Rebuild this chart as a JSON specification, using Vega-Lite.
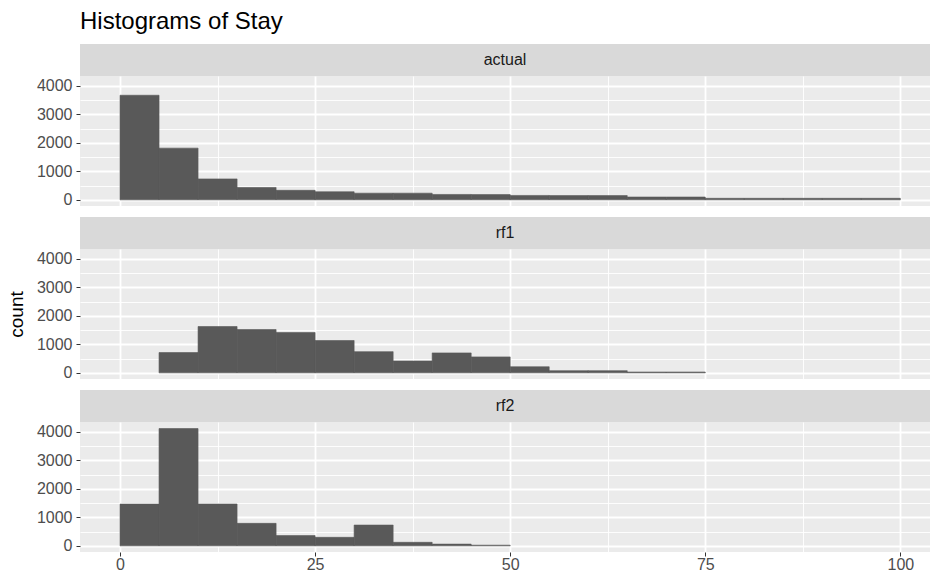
{
  "$schema": "https://vega.github.io/schema/vega-lite/v6.json",
  "padding": {"left": 7, "top": 10, "right": 0, "bottom": 0},
  "background": "white",
  "data": {"name": "bins"},
  "datasets": {
    "bins": [
      {"model": "actual", "bin_start": 0, "bin_end": 5, "count": 3670},
      {"model": "actual", "bin_start": 5, "bin_end": 10, "count": 1815},
      {"model": "actual", "bin_start": 10, "bin_end": 15, "count": 735},
      {"model": "actual", "bin_start": 15, "bin_end": 20, "count": 435},
      {"model": "actual", "bin_start": 20, "bin_end": 25, "count": 335},
      {"model": "actual", "bin_start": 25, "bin_end": 30, "count": 285},
      {"model": "actual", "bin_start": 30, "bin_end": 35, "count": 235},
      {"model": "actual", "bin_start": 35, "bin_end": 40, "count": 235},
      {"model": "actual", "bin_start": 40, "bin_end": 45, "count": 190},
      {"model": "actual", "bin_start": 45, "bin_end": 50, "count": 185},
      {"model": "actual", "bin_start": 50, "bin_end": 55, "count": 155},
      {"model": "actual", "bin_start": 55, "bin_end": 60, "count": 150},
      {"model": "actual", "bin_start": 60, "bin_end": 65, "count": 150},
      {"model": "actual", "bin_start": 65, "bin_end": 70, "count": 100},
      {"model": "actual", "bin_start": 70, "bin_end": 75, "count": 100},
      {"model": "actual", "bin_start": 75, "bin_end": 80, "count": 55},
      {"model": "actual", "bin_start": 80, "bin_end": 85, "count": 55},
      {"model": "actual", "bin_start": 85, "bin_end": 90, "count": 55},
      {"model": "actual", "bin_start": 90, "bin_end": 95, "count": 55},
      {"model": "actual", "bin_start": 95, "bin_end": 100, "count": 55},
      {"model": "rf1", "bin_start": 5, "bin_end": 10, "count": 713},
      {"model": "rf1", "bin_start": 10, "bin_end": 15, "count": 1626},
      {"model": "rf1", "bin_start": 15, "bin_end": 20, "count": 1520},
      {"model": "rf1", "bin_start": 20, "bin_end": 25, "count": 1415},
      {"model": "rf1", "bin_start": 25, "bin_end": 30, "count": 1135},
      {"model": "rf1", "bin_start": 30, "bin_end": 35, "count": 745},
      {"model": "rf1", "bin_start": 35, "bin_end": 40, "count": 415},
      {"model": "rf1", "bin_start": 40, "bin_end": 45, "count": 700},
      {"model": "rf1", "bin_start": 45, "bin_end": 50, "count": 561},
      {"model": "rf1", "bin_start": 50, "bin_end": 55, "count": 215},
      {"model": "rf1", "bin_start": 55, "bin_end": 60, "count": 78},
      {"model": "rf1", "bin_start": 60, "bin_end": 65, "count": 78},
      {"model": "rf1", "bin_start": 65, "bin_end": 70, "count": 30},
      {"model": "rf1", "bin_start": 70, "bin_end": 75, "count": 30},
      {"model": "rf2", "bin_start": 0, "bin_end": 5, "count": 1465},
      {"model": "rf2", "bin_start": 5, "bin_end": 10, "count": 4116},
      {"model": "rf2", "bin_start": 10, "bin_end": 15, "count": 1468},
      {"model": "rf2", "bin_start": 15, "bin_end": 20, "count": 790},
      {"model": "rf2", "bin_start": 20, "bin_end": 25, "count": 360},
      {"model": "rf2", "bin_start": 25, "bin_end": 30, "count": 300},
      {"model": "rf2", "bin_start": 30, "bin_end": 35, "count": 730},
      {"model": "rf2", "bin_start": 35, "bin_end": 40, "count": 125},
      {"model": "rf2", "bin_start": 40, "bin_end": 45, "count": 62},
      {"model": "rf2", "bin_start": 45, "bin_end": 50, "count": 25}
    ]
  },
  "spacing": 9,
  "vconcat": [
    {
      "spacing": 0,
      "vconcat": [
        {
          "width": 850, "height": 32,
          "view": {"fill": "#d9d9d9", "stroke": null},
          "title": {"text": "Histograms of Stay", "anchor": "start", "frame": "group", "fontSize": 24, "fontWeight": "normal", "color": "#000000", "offset": 10},
          "transform": [{"filter": "datum.model === 'actual'"}, {"aggregate": [{"op": "count", "as": "n"}], "groupby": ["model"]}],
          "mark": {"type": "text", "fontSize": 16, "color": "#1a1a1a"},
          "encoding": {"text": {"field": "model", "type": "nominal"}}
        },
        {
          "width": 850, "height": 130,
          "view": {"fill": "#ebebeb", "stroke": null},
          "transform": [{"filter": "datum.model === 'actual'"}],
          "mark": {"type": "rect", "color": "#595959", "stroke": "#595959", "strokeWidth": 0.6},
          "encoding": {
            "x": {"field": "bin_start", "type": "quantitative", "scale": {"domain": [-5.13, 103.8], "nice": false, "zero": false},
              "axis": {"values": [0, 12.5, 25, 37.5, 50, 62.5, 75, 87.5, 100], "labels": false, "ticks": false, "domain": false, "title": null, "grid": true, "gridColor": "#ffffff",
                "gridWidth": {"condition": {"test": "datum.value % 25 === 0", "value": 1.8}, "value": 0.9}}},
            "x2": {"field": "bin_end"},
            "y": {"field": "count", "type": "quantitative", "scale": {"domain": [-215, 4345], "nice": false},
              "axis": {"values": [0, 500, 1000, 1500, 2000, 2500, 3000, 3500, 4000], "format": "d", "labelExpr": "datum.value % 1000 === 0 ? datum.label : ''",
                "title": "count", "titleOpacity": 0, "grid": true, "gridColor": "#ffffff",
                "gridWidth": {"condition": {"test": "datum.value % 1000 === 0", "value": 1.8}, "value": 0.9},
                "domain": false, "tickSize": 4,
                "tickColor": {"condition": {"test": "datum.value % 1000 === 0", "value": "#333333"}, "value": "transparent"},
                "labelPadding": 4, "titlePadding": 10}},
            "y2": {"datum": 0}
          }
        }
      ]
    },
    {
      "spacing": 0,
      "vconcat": [
        {
          "width": 850, "height": 32,
          "view": {"fill": "#d9d9d9", "stroke": null},
          "transform": [{"filter": "datum.model === 'rf1'"}, {"aggregate": [{"op": "count", "as": "n"}], "groupby": ["model"]}],
          "mark": {"type": "text", "fontSize": 16, "color": "#1a1a1a"},
          "encoding": {"text": {"field": "model", "type": "nominal"}}
        },
        {
          "width": 850, "height": 130,
          "view": {"fill": "#ebebeb", "stroke": null},
          "transform": [{"filter": "datum.model === 'rf1'"}],
          "mark": {"type": "rect", "color": "#595959", "stroke": "#595959", "strokeWidth": 0.6},
          "encoding": {
            "x": {"field": "bin_start", "type": "quantitative", "scale": {"domain": [-5.13, 103.8], "nice": false, "zero": false},
              "axis": {"values": [0, 12.5, 25, 37.5, 50, 62.5, 75, 87.5, 100], "labels": false, "ticks": false, "domain": false, "title": null, "grid": true, "gridColor": "#ffffff",
                "gridWidth": {"condition": {"test": "datum.value % 25 === 0", "value": 1.8}, "value": 0.9}}},
            "x2": {"field": "bin_end"},
            "y": {"field": "count", "type": "quantitative", "scale": {"domain": [-215, 4345], "nice": false},
              "axis": {"values": [0, 500, 1000, 1500, 2000, 2500, 3000, 3500, 4000], "format": "d", "labelExpr": "datum.value % 1000 === 0 ? datum.label : ''",
                "title": "count", "grid": true, "gridColor": "#ffffff",
                "gridWidth": {"condition": {"test": "datum.value % 1000 === 0", "value": 1.8}, "value": 0.9},
                "domain": false, "tickSize": 4,
                "tickColor": {"condition": {"test": "datum.value % 1000 === 0", "value": "#333333"}, "value": "transparent"},
                "labelPadding": 4, "titlePadding": 10}},
            "y2": {"datum": 0}
          }
        }
      ]
    },
    {
      "spacing": 0,
      "vconcat": [
        {
          "width": 850, "height": 32,
          "view": {"fill": "#d9d9d9", "stroke": null},
          "transform": [{"filter": "datum.model === 'rf2'"}, {"aggregate": [{"op": "count", "as": "n"}], "groupby": ["model"]}],
          "mark": {"type": "text", "fontSize": 16, "color": "#1a1a1a"},
          "encoding": {"text": {"field": "model", "type": "nominal"}}
        },
        {
          "width": 850, "height": 130,
          "view": {"fill": "#ebebeb", "stroke": null},
          "transform": [{"filter": "datum.model === 'rf2'"}],
          "mark": {"type": "rect", "color": "#595959", "stroke": "#595959", "strokeWidth": 0.6},
          "encoding": {
            "x": {"field": "bin_start", "type": "quantitative", "scale": {"domain": [-5.13, 103.8], "nice": false, "zero": false},
              "axis": {"values": [0, 12.5, 25, 37.5, 50, 62.5, 75, 87.5, 100], "labelExpr": "datum.value % 25 === 0 ? datum.label : ''", "labelFlush": false,
                "domain": false, "title": null, "grid": true, "gridColor": "#ffffff",
                "gridWidth": {"condition": {"test": "datum.value % 25 === 0", "value": 1.8}, "value": 0.9},
                "tickSize": 4,
                "tickColor": {"condition": {"test": "datum.value % 25 === 0", "value": "#333333"}, "value": "transparent"},
                "labelPadding": 0}},
            "x2": {"field": "bin_end"},
            "y": {"field": "count", "type": "quantitative", "scale": {"domain": [-215, 4345], "nice": false},
              "axis": {"values": [0, 500, 1000, 1500, 2000, 2500, 3000, 3500, 4000], "format": "d", "labelExpr": "datum.value % 1000 === 0 ? datum.label : ''",
                "title": "count", "titleOpacity": 0, "grid": true, "gridColor": "#ffffff",
                "gridWidth": {"condition": {"test": "datum.value % 1000 === 0", "value": 1.8}, "value": 0.9},
                "domain": false, "tickSize": 4,
                "tickColor": {"condition": {"test": "datum.value % 1000 === 0", "value": "#333333"}, "value": "transparent"},
                "labelPadding": 4, "titlePadding": 10}},
            "y2": {"datum": 0}
          }
        }
      ]
    }
  ],
  "config": {
    "font": "Liberation Sans",
    "view": {"stroke": null},
    "axis": {"labelFontSize": 16, "labelColor": "#4d4d4d", "titleFontSize": 19, "titleFontWeight": "normal", "titleColor": "#000000", "labelFont": "Liberation Sans", "titleFont": "Liberation Sans"},
    "title": {"font": "Liberation Sans"}
  }
}
